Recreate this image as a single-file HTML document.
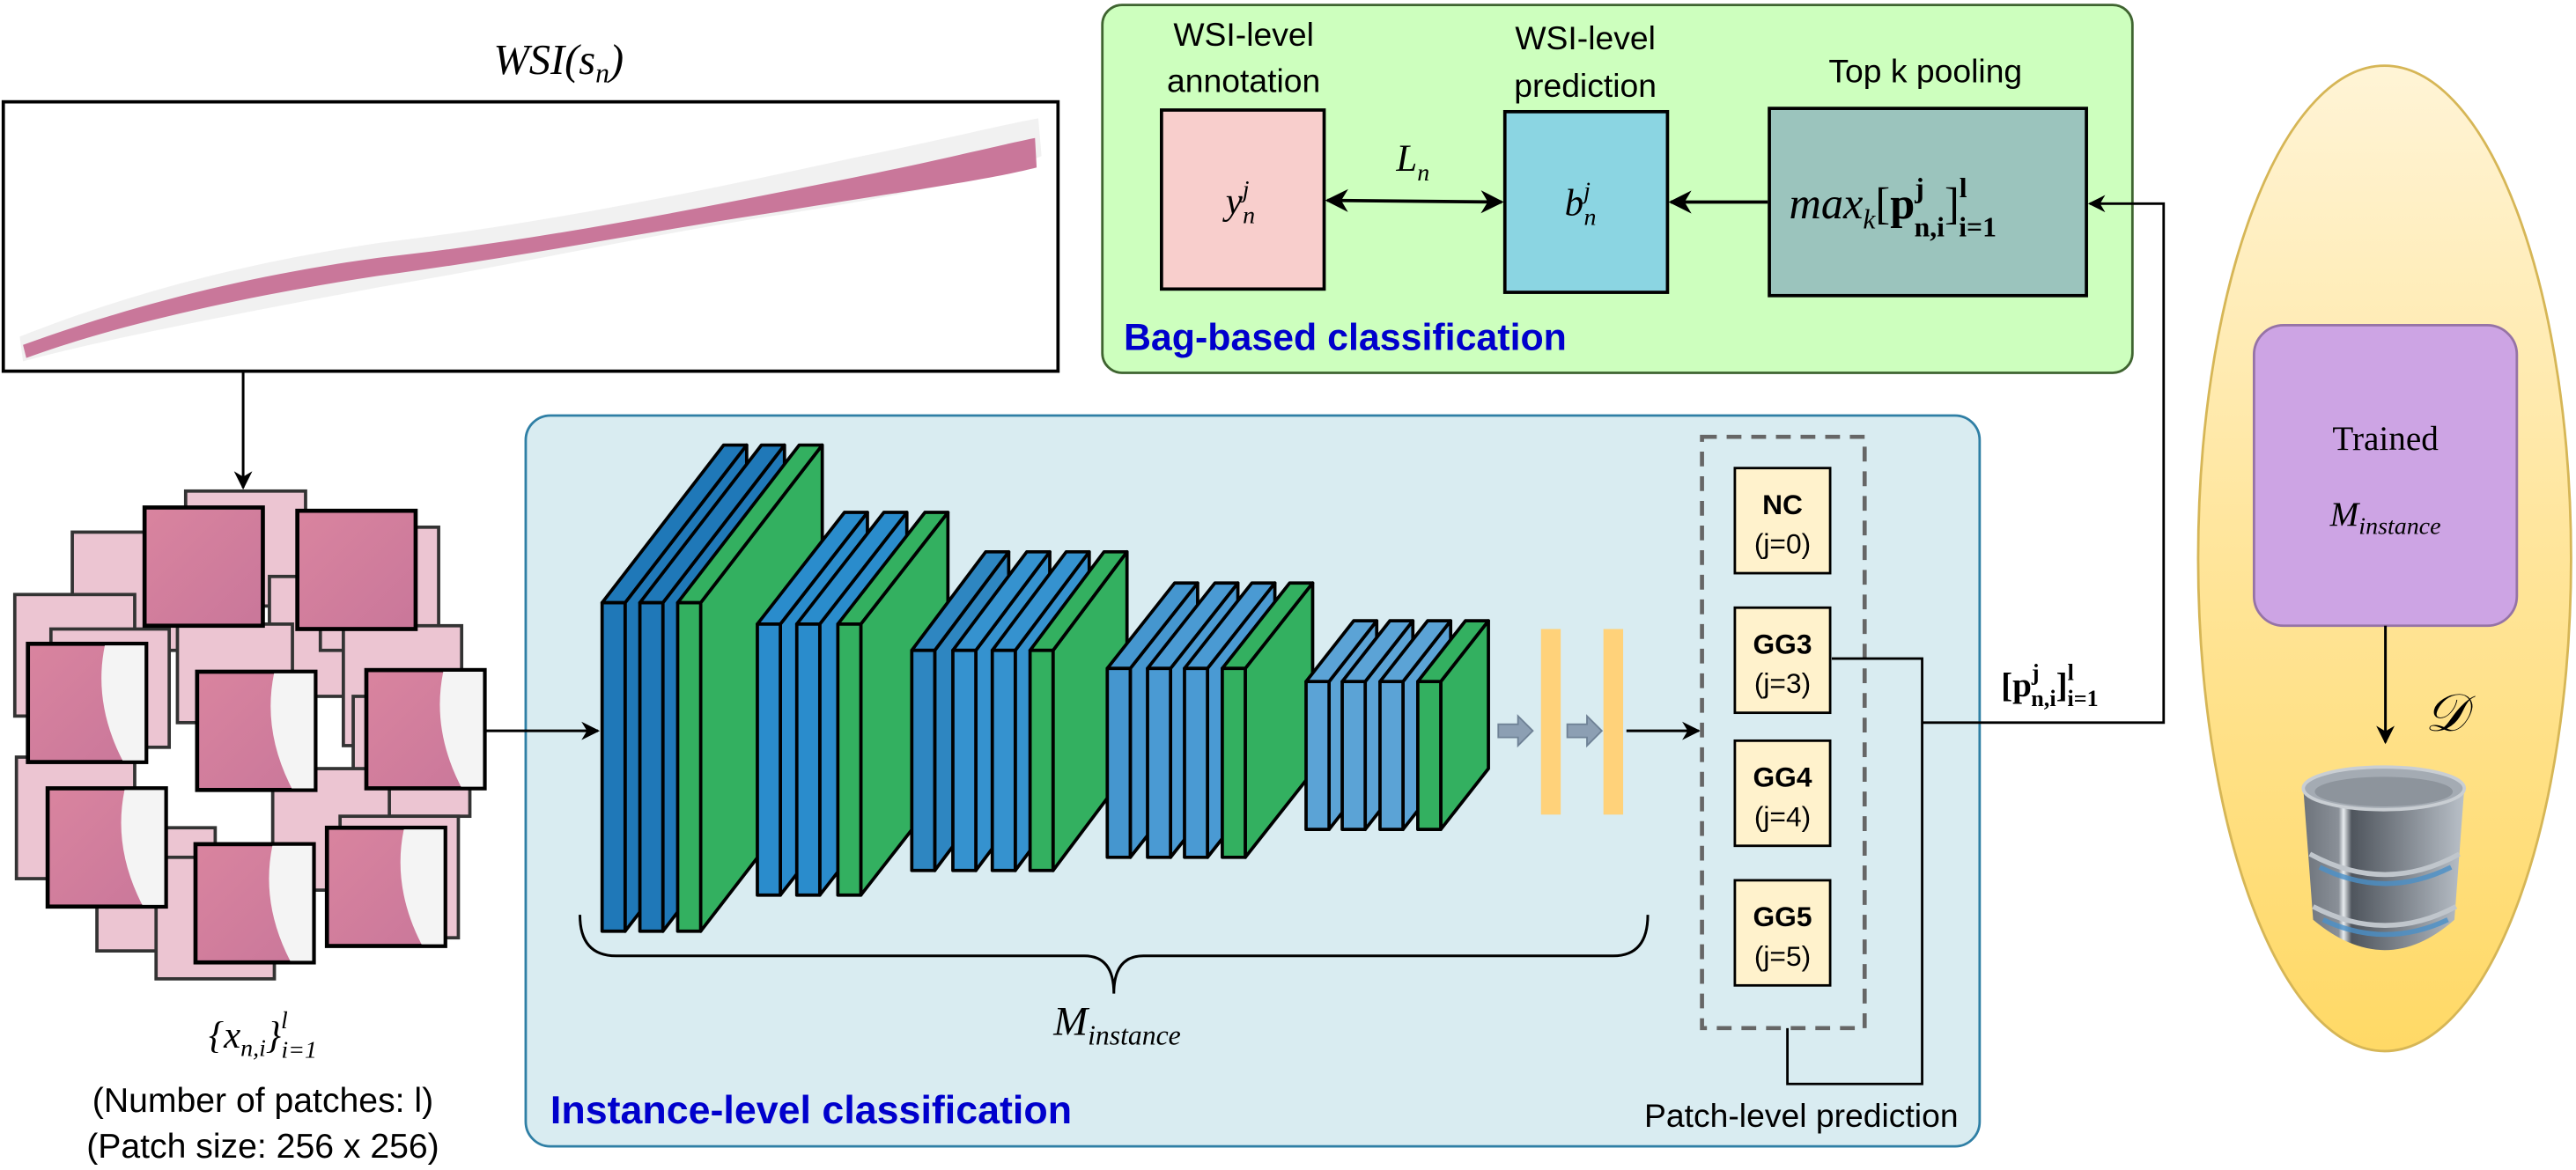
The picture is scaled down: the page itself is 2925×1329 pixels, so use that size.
<!DOCTYPE html>
<html><head><meta charset="utf-8"><style>
html,body{margin:0;padding:0;background:#fff;}
svg{display:block;}
text{font-family:"Liberation Sans",sans-serif;}
.m{font-family:"Liberation Serif",serif;font-style:italic;}
.s{font-family:"Liberation Serif",serif;}
.b{font-family:"Liberation Serif",serif;font-weight:bold;}
</style></head><body>
<svg id="s" width="2925" height="1329" viewBox="0 0 1568 712.4" preserveAspectRatio="none" xmlns="http://www.w3.org/2000/svg">
<defs>
<marker id="ar" viewBox="0 0 10 10" refX="9" refY="5" markerWidth="7" markerHeight="7" orient="auto-start-reverse"><path d="M0,0 L10,5 L0,10 L3,5 z" fill="#000"/></marker>
<linearGradient id="ell" x1="0" y1="0" x2="0" y2="1"><stop offset="0" stop-color="#fff4d6"/><stop offset="0.5" stop-color="#ffe59a"/><stop offset="1" stop-color="#ffd966"/></linearGradient>
<linearGradient id="cyl" x1="0" y1="0" x2="1" y2="0"><stop offset="0" stop-color="#6d737b"/><stop offset="0.22" stop-color="#8a9098"/><stop offset="0.25" stop-color="#e8ecef"/><stop offset="0.3" stop-color="#4f555d"/><stop offset="1" stop-color="#b9c0c8"/></linearGradient>
<linearGradient id="pk" x1="0" y1="0" x2="1" y2="1"><stop offset="0" stop-color="#d9849f"/><stop offset="1" stop-color="#c9779a"/></linearGradient>
</defs>

<!-- WSI -->
<text x="340" y="45" font-size="26" text-anchor="middle" class="m">WSI(s<tspan font-size="17" dy="5">n</tspan><tspan dy="-5">)</tspan></text>
<rect x="2" y="62" width="642" height="164" fill="#fff" stroke="#000" stroke-width="2"/>
<path d="M12,205 C80,178 150,160 230,148 C330,136 420,118 520,96 C570,86 610,76 632,72 L634,95 C600,110 540,120 480,130 C400,142 320,160 230,175 C150,190 70,205 14,220 Z" fill="#eeeeee" opacity="0.8"/>
<path d="M14,210 C80,186 150,168 230,157 C330,146 420,128 520,108 C570,98 610,88 630,84 L631,102 C600,110 540,118 480,128 C400,140 320,156 230,168 C150,180 70,198 16,218 Z" fill="#c9779a"/>

<line x1="148" y1="227" x2="148" y2="297" stroke="#000" stroke-width="1.6" marker-end="url(#ar)"/>

<!-- patches -->
<g id="bgp" fill="#ecc5d2" stroke="#333" stroke-width="2"></g>
<g id="fgp" fill="url(#pk)" stroke="#000" stroke-width="2.5"></g>

<text x="160" y="638" font-size="23" text-anchor="middle" class="m">{x<tspan font-size="15" dy="5">n,i</tspan><tspan dy="-5">}</tspan><tspan font-size="15" dy="-12">l</tspan><tspan font-size="15" dx="-4" dy="18">i=1</tspan></text>
<text x="160" y="677" font-size="21" text-anchor="middle">(Number of patches: l)</text>
<text x="160" y="705" font-size="21" text-anchor="middle">(Patch size: 256 x 256)</text>

<!-- Instance panel -->
<rect x="320" y="253" width="885" height="445" rx="15" fill="#d9ecf1" stroke="#2f7fa5" stroke-width="1.5"/>
<line x1="296" y1="445" x2="364" y2="445" stroke="#000" stroke-width="1.6" marker-end="url(#ar)"/>
<g id="cnn" stroke="#000" stroke-width="2" stroke-linejoin="round"></g>
<rect x="938" y="383" width="12" height="113" fill="#ffd27a"/>
<rect x="976" y="383" width="12" height="113" fill="#ffd27a"/>
<path d="M912,441 h12 v-5 l9,9 l-9,9 v-5 h-12z" fill="#8c9fb3" stroke="#6f8296"/>
<path d="M954,441 h12 v-5 l9,9 l-9,9 v-5 h-12z" fill="#8c9fb3" stroke="#6f8296"/>
<line x1="990" y1="445" x2="1034" y2="445" stroke="#000" stroke-width="1.6" marker-end="url(#ar)"/>
<path d="M353,557 Q353,582 375,582 L660,582 Q678,582 678,605 Q678,582 696,582 L982,582 Q1003,582 1003,557" fill="none" stroke="#000" stroke-width="1.6"/>
<text x="680" y="630" font-size="25" text-anchor="middle" class="m">M<tspan font-size="17" dy="6">instance</tspan></text>
<text x="335" y="684" font-size="24" font-weight="bold" fill="#0000cc">Instance-level classification</text>
<text x="1192" y="686" font-size="20" text-anchor="end">Patch-level prediction</text>

<rect x="1036" y="266" width="99" height="360" fill="none" stroke="#666" stroke-width="2.5" stroke-dasharray="9,6"/>
<g font-size="17" text-anchor="middle">
<rect x="1056" y="285" width="58" height="64" fill="#fff2cc" stroke="#000" stroke-width="1.5"/>
<text x="1085" y="313" font-weight="bold">NC</text><text x="1085" y="337">(j=0)</text>
<rect x="1056" y="370" width="58" height="64" fill="#fff2cc" stroke="#000" stroke-width="1.5"/>
<text x="1085" y="398" font-weight="bold">GG3</text><text x="1085" y="422">(j=3)</text>
<rect x="1056" y="451" width="58" height="64" fill="#fff2cc" stroke="#000" stroke-width="1.5"/>
<text x="1085" y="479" font-weight="bold">GG4</text><text x="1085" y="503">(j=4)</text>
<rect x="1056" y="536" width="58" height="64" fill="#fff2cc" stroke="#000" stroke-width="1.5"/>
<text x="1085" y="564" font-weight="bold">GG5</text><text x="1085" y="588">(j=5)</text>
</g>
<path d="M1115,401 L1170,401 L1170,660 L1088,660 L1088,626" fill="none" stroke="#000" stroke-width="1.5"/>
<text x="1218" y="424" font-size="21" class="b">[p<tspan font-size="14" dy="-10">j</tspan><tspan font-size="14" dx="-5" dy="16">n,i</tspan><tspan dy="-6">]</tspan><tspan font-size="14" dy="-10">l</tspan><tspan font-size="14" dx="-4" dy="16">i=1</tspan></text>

<!-- Bag panel -->
<rect x="671" y="3" width="627" height="224" rx="12" fill="#cdffbe" stroke="#3f6430" stroke-width="1.5"/>
<path d="M1170,440 L1317,440 L1317,124 L1272,124" fill="none" stroke="#000" stroke-width="1.5" marker-end="url(#ar)"/>
<g font-size="20" text-anchor="middle">
<text x="757" y="28">WSI-level</text><text x="757" y="56">annotation</text>
<text x="965" y="30">WSI-level</text><text x="965" y="59">prediction</text>
<text x="1172" y="50">Top k pooling</text>
</g>
<rect x="707" y="67" width="99" height="109" fill="#f8cecc" stroke="#000" stroke-width="2"/>
<rect x="916" y="68" width="99" height="110" fill="#8bd5e2" stroke="#000" stroke-width="2"/>
<rect x="1077" y="66" width="193" height="114" fill="#9bc4bd" stroke="#000" stroke-width="2"/>
<text x="755" y="130" font-size="23" text-anchor="middle" class="m">y<tspan font-size="15" dy="-10">j</tspan><tspan font-size="15" dx="-4" dy="16">n</tspan></text>
<text x="962" y="131" font-size="23" text-anchor="middle" class="m">b<tspan font-size="15" dy="-10">j</tspan><tspan font-size="15" dx="-4" dy="16">n</tspan></text>
<text x="1089" y="133" font-size="27" class="m">max<tspan font-size="17" dy="6">k</tspan><tspan dy="-6" font-style="normal">[</tspan><tspan font-weight="bold" font-style="normal">p</tspan><tspan font-size="17" font-weight="bold" font-style="normal" dy="-13">j</tspan><tspan font-size="17" font-weight="bold" font-style="normal" dx="-6" dy="24">n,i</tspan><tspan font-style="normal" dy="-11">]</tspan><tspan font-size="17" font-weight="bold" font-style="normal" dy="-13">l</tspan><tspan font-size="17" font-weight="bold" font-style="normal" dx="-5" dy="24">i=1</tspan></text>
<line x1="808" y1="122" x2="914" y2="123" stroke="#000" stroke-width="2" marker-start="url(#ar)" marker-end="url(#ar)"/>
<line x1="1076" y1="123" x2="1017" y2="123" stroke="#000" stroke-width="2" marker-end="url(#ar)"/>
<text x="860" y="104" font-size="23" text-anchor="middle" class="m">L<tspan font-size="15" dy="6">n</tspan></text>
<text x="684" y="213" font-size="23" font-weight="bold" fill="#0000cc">Bag-based classification</text>

<!-- Ellipse -->
<ellipse cx="1451.5" cy="340" rx="113.5" ry="300" fill="url(#ell)" stroke="#d6b656" stroke-width="1.5"/>
<rect x="1372" y="198" width="160" height="183" rx="18" fill="#cda4e4" stroke="#9673a6" stroke-width="1.5"/>
<text x="1452" y="274" font-size="21" text-anchor="middle" class="s">Trained</text>
<text x="1452" y="320" font-size="21" text-anchor="middle" class="m">M<tspan font-size="15" dy="5">instance</tspan></text>
<line x1="1452" y1="381" x2="1452" y2="452" stroke="#000" stroke-width="1.6" marker-end="url(#ar)"/>
<text x="1476" y="445" font-size="32" class="m">𝒟</text>
<!-- database -->
<path d="M1402,480 L1408,560 Q1452,597 1494,560 L1500,480 Z" fill="url(#cyl)"/>
<ellipse cx="1451" cy="480" rx="49" ry="13" fill="#a4abb3" stroke="#c9ced3" stroke-width="2"/>
<ellipse cx="1451" cy="482" rx="42" ry="9" fill="#8d949c"/>
<path d="M1406,520 Q1452,545 1497,520" fill="none" stroke="#c0c6cc" stroke-width="3"/>
<path d="M1412,528 Q1452,548 1492,528" fill="none" stroke="#4a90c8" stroke-width="3" opacity="0.8"/>
<path d="M1408,552 Q1452,575 1495,552" fill="none" stroke="#c0c6cc" stroke-width="3"/>
<path d="M1414,560 Q1452,578 1490,560" fill="none" stroke="#4a90c8" stroke-width="3" opacity="0.8"/>
</svg>
<script>
var NS="http://www.w3.org/2000/svg";
function el(p,t,a){var e=document.createElementNS(NS,t);for(var k in a)e.setAttribute(k,a[k]);p.appendChild(e);return e;}
var bg=document.getElementById('bgp'),fg=document.getElementById('fgp');
[[113,299,73,70],[44,324,73,72],[9,362,73,74],[31,383,72,72],[164,351,73,73],[195,321,72,75],[209,381,72,73],[215,424,71,73],[10,461,72,74],[59,504,72,75],[95,522,72,74],[166,468,71,74],[207,497,72,74],[108,380,70,60]].forEach(function(r){el(bg,'rect',{x:r[0],y:r[1],width:r[2],height:r[3]});});
[[88,309,72,72],[181,311,72,72],[17,392,72,72],[120,409,72,72],[223,408,72,72],[29,480,72,72],[119,514,72,72],[199,504,72,72]].forEach(function(r,i){
 el(fg,'rect',{x:r[0],y:r[1],width:r[2],height:r[3]});
 if(i>=2){el(fg,'path',{d:'M'+(r[0]+r[2]*0.65)+','+(r[1]+1)+' L'+(r[0]+r[2]-1)+','+(r[1]+1)+' L'+(r[0]+r[2]-1)+','+(r[1]+r[3]-1)+' L'+(r[0]+r[2]*0.8)+','+(r[1]+r[3]-1)+' Q'+(r[0]+r[2]*0.55)+','+(r[1]+r[3]*0.5)+' '+(r[0]+r[2]*0.65)+','+(r[1]+1)+'z',fill:'#f4f4f4',stroke:'none'});}
});
var cnn=document.getElementById('cnn');
var G=[
 {x:[366.5,389.5,412.5],c:['#1f78b8','#1f78b8','#33b060'],t:367,b:567,dx:74,dy:96},
 {x:[461,485,510],c:['#2a8ccc','#2a8ccc','#33b060'],t:380,b:545,dx:53,dy:68},
 {x:[555,580,604,627],c:['#2e86c1','#3592cf','#3592cf','#33b060'],t:396,b:530,dx:45,dy:60},
 {x:[674,698.5,721,744],c:['#4596cf','#4a9ad3','#4a9ad3','#33b060'],t:407,b:522,dx:41,dy:52},
 {x:[795,817,840,863],c:['#5ba3d6','#5ba3d6','#5ba3d6','#33b060'],t:415,b:505,dx:29,dy:37}
];
G.forEach(function(g){var w=14;g.x.forEach(function(x,i){var c=g.c[i],t=g.t,b=g.b,dx=g.dx,dy=g.dy;
 el(cnn,'polygon',{points:(x+w)+','+t+' '+(x+w+dx)+','+(t-dy)+' '+(x+w+dx)+','+(b-dy)+' '+(x+w)+','+b,fill:c});
 el(cnn,'polygon',{points:x+','+t+' '+(x+dx)+','+(t-dy)+' '+(x+w+dx)+','+(t-dy)+' '+(x+w)+','+t,fill:c});
 el(cnn,'rect',{x:x,y:t,width:w,height:b-t,fill:c});
});});
</script>
</body></html>
